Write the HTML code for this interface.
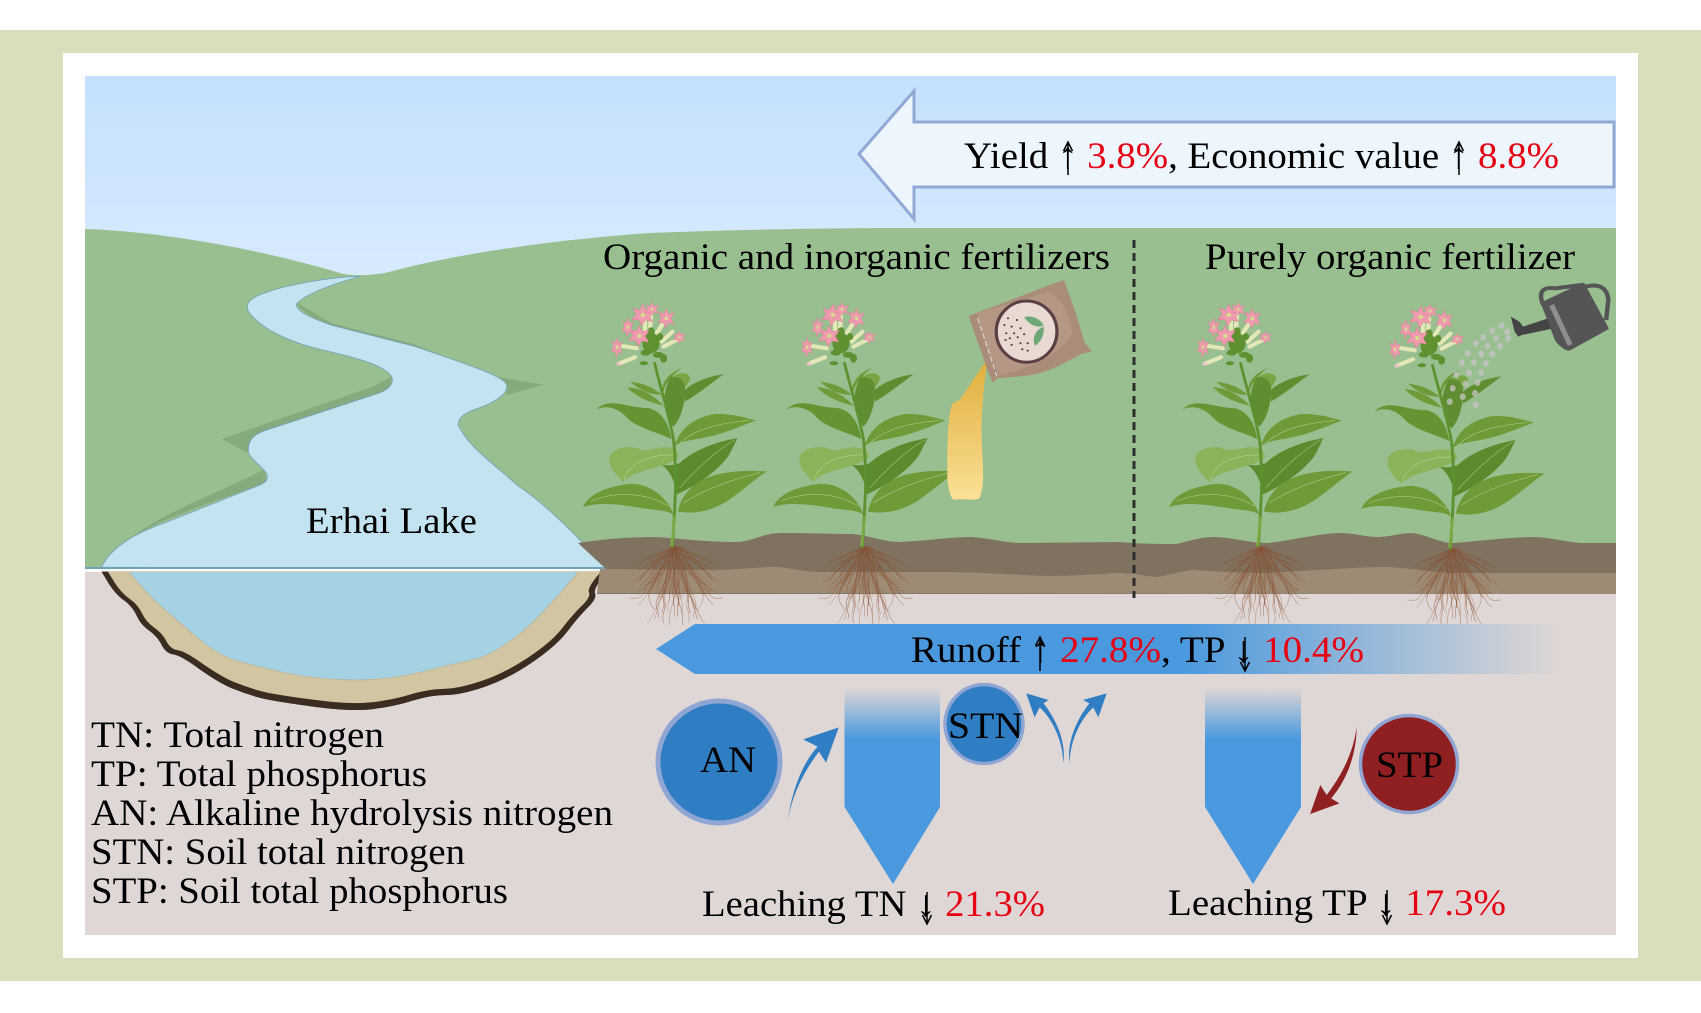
<!DOCTYPE html>
<html><head><meta charset="utf-8"><style>
html,body{margin:0;padding:0;background:#fff}
svg{display:block}
text{font-family:"Liberation Serif",serif;font-size:37px;fill:#000}
.r{fill:#e60012}
</style></head><body>
<svg xmlns="http://www.w3.org/2000/svg" width="1701" height="1013" viewBox="0 0 1701 1013">
<defs>
<linearGradient id="sky" x1="0" y1="0" x2="0" y2="1"><stop offset="0" stop-color="#c4e0fd"/><stop offset="1" stop-color="#d9eafe"/></linearGradient>
<linearGradient id="run" gradientUnits="userSpaceOnUse" x1="656" y1="0" x2="1560" y2="0"><stop offset="0" stop-color="#4a99de"/><stop offset=".58" stop-color="#4a99de"/><stop offset="1" stop-color="#dfd7d5"/></linearGradient>
<linearGradient id="lch" x1="0" y1="0" x2="0" y2="1"><stop offset="0" stop-color="#dfd7d5"/><stop offset=".26" stop-color="#4a99de"/><stop offset="1" stop-color="#4a99de"/></linearGradient>
<linearGradient id="pour" x1="0" y1="0" x2="0" y2="1"><stop offset="0" stop-color="#dfae3a"/><stop offset="1" stop-color="#fbe096"/></linearGradient>
<g id="fl"><path d="M0 -26 L7 -11 L24 -14 L14 0 L22 16 L6 12 L-3 26 L-9 11 L-25 12 L-15 -2 L-22 -16 L-7 -12Z" fill="#ee9bb0" stroke="#d9708e" stroke-width="1"/><circle r="5" fill="#d5dd8a"/></g>
<g id="roots" fill="none" stroke="#8a4b2b" stroke-width="1.4" stroke-linecap="round">
  <path d="M315 800 C290 820 250 825 220 850"/><path d="M315 800 C280 830 250 860 225 900"/>
  <path d="M315 800 C290 850 270 900 250 940 C245 960 255 975 265 990"/><path d="M315 800 C300 860 290 920 295 980 C290 1000 285 1015 290 1030"/>
  <path d="M315 805 C315 870 320 930 340 990 C345 1010 340 1020 345 1035"/><path d="M318 800 C330 870 360 930 380 985 C390 1005 395 1020 405 1030"/>
  <path d="M318 800 C350 850 390 900 420 945 C430 960 440 955 455 955"/><path d="M318 800 C350 820 400 830 440 860"/>
  <path d="M318 800 C360 840 410 870 445 910"/><path d="M315 802 C285 840 240 870 220 905"/>
  <path d="M312 810 C300 850 265 880 235 930"/><path d="M320 810 C335 860 370 880 400 930 C410 950 420 970 430 975"/>
  <path d="M310 815 C300 860 310 900 330 950 C335 970 325 990 330 1010"/><path d="M300 830 C285 880 255 900 250 945"/>
  <path d="M330 830 C345 880 340 920 370 960 C375 985 380 1000 385 1020"/><path d="M305 850 C310 890 280 930 270 965 C265 985 280 1000 275 1015"/>
  <path d="M325 850 C315 890 315 950 320 980"/><path d="M290 830 C265 840 240 855 235 870"/>
  <path d="M350 830 C380 845 410 850 430 875"/><path d="M365 880 C385 900 410 915 430 935"/>
  <path d="M270 870 C250 890 240 910 225 915"/><path d="M355 925 C365 950 355 975 365 1000"/>
</g>
<g id="plant">
 <use href="#roots" opacity=".8"/>
 <use href="#roots" transform="translate(650,0) scale(-1,1)" opacity=".6"/>
 <use href="#roots" transform="translate(322,800) scale(.75,.85) translate(-315,-800)" opacity=".7"/>
 <use href="#roots" transform="translate(322,800) scale(-.55,.7) translate(-315,-800)" opacity=".8"/>
 <!-- leaves -->
 <path d="M350 365 C390 340 430 305 458 283 C410 290 370 310 350 330Z" fill="#5f8d2f"/>
 <path d="M292 378 C260 345 230 325 188 322 C215 355 260 370 292 378Z" fill="#6f9a37"/>
 <path d="M285 345 C260 320 230 310 197 305 C225 335 260 345 285 345Z" fill="#6f9a37"/>
 <path d="M310 295 C330 275 360 275 365 295 C360 310 355 315 350 325Z" fill="#7ba442"/>
 <path d="M285 330 C290 295 315 275 342 264 C315 285 295 310 290 335Z" fill="#6f9a37"/>
 <path d="M312 478 C305 430 285 395 250 385 C190 385 140 350 103 388 C130 375 160 385 180 405 C210 445 270 455 312 478Z" fill="#669433"/>
 <path d="M318 440 C285 400 285 340 310 292 C345 288 352 310 350 350 C345 390 335 420 318 440Z" fill="#5f8d2f"/>
 <path d="M320 500 C330 470 350 420 430 403 C470 400 510 410 548 422 C500 442 450 465 410 472 C370 482 340 482 320 500Z" fill="#6f9a37"/>
 <path d="M325 645 C375 620 420 590 455 550 C475 530 485 500 497 475 C440 485 375 510 335 550 C310 560 300 555 285 555 C310 575 325 610 325 645Z" fill="#5d8a2d"/>
 <path d="M318 705 C300 650 250 612 200 612 C140 618 80 640 65 682 C110 665 170 675 230 685 C270 692 300 690 318 705Z" fill="#6f9a37"/>
 <path d="M330 695 C370 705 430 695 480 655 C520 625 550 595 578 575 C520 570 450 575 410 595 C365 615 340 650 330 695Z" fill="#6f9a37"/>
 <path d="M332 525 C332 505 300 498 270 505 C250 510 230 515 210 503 C175 498 138 510 138 540 C140 572 165 590 178 608 C190 585 230 575 270 562 C300 552 335 542 332 525Z" fill="#8cb35a"/>
 <g fill="none" stroke="#cfe0a8" stroke-width="1.5" opacity=".8">
  <path d="M85 665 C150 635 240 635 305 680"/><path d="M345 670 C400 630 480 600 560 578"/><path d="M335 490 C380 445 450 430 530 422"/><path d="M180 600 C190 560 230 525 320 525"/><path d="M335 625 C380 570 440 510 490 480"/>
 </g>
 <!-- stem -->
 <path d="M315 800 C320 700 330 600 318 480 C305 400 280 320 265 250" fill="none" stroke="#5f9130" stroke-width="8" stroke-linecap="round"/>
 <path d="M312 798 L322 710" stroke="#7cab45" stroke-width="7"/>
 <!-- flower tubes -->
 <g stroke="#e3e8b6" stroke-width="12" stroke-linecap="round" fill="none">
  <path d="M215 205 L172 198"/><path d="M210 232 L168 250"/><path d="M272 158 L290 128"/><path d="M285 185 L315 155"/><path d="M290 200 L332 177"/><path d="M252 150 L255 105"/><path d="M238 150 L238 125"/>
 </g>
 <!-- buds -->
 <g fill="#5f9130">
  <ellipse cx="255" cy="190" rx="24" ry="30"/><ellipse cx="240" cy="218" rx="14" ry="9"/><ellipse cx="275" cy="225" rx="15" ry="9"/><ellipse cx="290" cy="235" rx="10" ry="13"/><ellipse cx="235" cy="250" rx="12" ry="6"/><ellipse cx="255" cy="155" rx="10" ry="13"/><ellipse cx="280" cy="170" rx="9" ry="11"/>
 </g>
 <use href="#fl" transform="translate(232,105) scale(1.25)"/><use href="#fl" transform="translate(222,168) scale(1.2)"/><use href="#fl" transform="translate(190,142) scale(.65,1.15)"/><use href="#fl" transform="translate(298,115) scale(.95,1.15)"/><use href="#fl" transform="translate(160,202) scale(.65,1.15)"/>
 <use href="#fl" transform="translate(335,172) scale(.7)"/><use href="#fl" transform="translate(258,88) scale(.8)"/>
 <ellipse cx="165" cy="252" rx="7" ry="5" fill="#f0c2cc"/>
</g>
</defs>

<rect width="1701" height="1013" fill="#fff"/>
<rect x="0" y="30" width="1701" height="951" fill="#d9dfbd"/>
<rect x="63" y="53" width="1575" height="905" fill="#fff"/>
<rect x="85" y="76" width="1531" height="204" fill="url(#sky)"/>
<rect x="85" y="572" width="1531" height="363" fill="#dfd7d5"/>

<!-- hills -->
<path d="M85 229 C150 231 250 246 340 273 C350 276 365 276 385 273 C450 255 550 240 650 233 C750 229 850 228 912 228 L1616 228 L1616 568 L85 568Z" fill="#99bf90"/>

<!-- river -->
<g transform="scale(.4146,.3827)">
 <path d="M535 1147 L620 1115 L900 1010 L945 985 L940 1020 L640 1130 L600 1185Z" fill="#87a97e"/>
 <path d="M715 790 C735 835 850 875 1000 925 C1100 960 1180 985 1312 1005 L1222 1032 L1222 1000 L1000 900 L800 845Z" fill="#87a97e"/>
 <path d="M245 1480 C300 1390 400 1355 640 1262 L640 1225 C500 1305 340 1350 245 1480Z" fill="#87a97e"/>
 <path d="M870 722 C820 722 700 740 640 765 C600 780 590 795 600 815 C630 860 700 895 780 915 C860 935 930 955 945 985 C950 1000 940 1015 920 1025 L640 1125 C610 1135 595 1155 600 1185 C610 1205 645 1230 645 1245 C645 1255 640 1262 625 1268 L400 1365 C320 1395 265 1435 245 1482 L1465 1487 C1400 1410 1320 1320 1250 1270 C1200 1220 1130 1170 1105 1110 C1105 1085 1130 1075 1170 1060 C1200 1045 1225 1030 1222 1005 C1215 985 1150 960 1000 905 L800 850 C750 830 715 815 715 795 C730 770 820 735 870 722Z" fill="#c3e3f0" stroke="#6fa3b8" stroke-width="2"/>
</g>
<rect x="85" y="567" width="520" height="2" fill="#6fa3b8"/>
<rect x="85" y="569" width="521" height="3" fill="#fff"/>

<!-- lake basin -->
<g transform="translate(0,540) scale(.4146,.3333)">
 <path id="basin" d="M245 95 L262 130 Q280 165 300 182 Q320 200 330 228 Q340 255 360 272 Q380 290 390 315 Q400 340 418 343 Q435 345 482 388 Q530 430 560 445 Q590 460 620 471 Q650 482 745 498 Q840 515 895 508 Q950 500 995 482 Q1040 465 1075 465 Q1110 465 1165 442 Q1220 420 1280 370 Q1340 320 1368 275 Q1395 230 1418 202 Q1440 175 1435 160 Q1430 145 1465 95Z" fill="#3a2c20"/>
 <use href="#basin" style="fill:#d2c5a1"/>
 <path transform="translate(855,95) scale(.975,.95) translate(-855,-95)" d="M245 95 L262 130 Q280 165 300 182 Q320 200 330 228 Q340 255 360 272 Q380 290 390 315 Q400 340 418 343 Q435 345 482 388 Q530 430 560 445 Q590 460 620 471 Q650 482 745 498 Q840 515 895 508 Q950 500 995 482 Q1040 465 1075 465 Q1110 465 1165 442 Q1220 420 1280 370 Q1340 320 1368 275 Q1395 230 1418 202 Q1440 175 1435 160 Q1430 145 1465 95Z" fill="#d2c5a1"/>
 <path d="M310 95 L340 138 Q370 180 400 212 Q430 245 475 292 Q520 340 560 358 Q600 375 685 398 Q770 420 855 420 Q940 420 1020 395 Q1100 370 1140 360 Q1180 350 1240 295 Q1300 240 1395 95Z" fill="#a5d2e3" stroke="#bfb190" stroke-width="2"/>
</g>

<!-- soil -->
<path d="M578 543 C590 541 620 537 653 537 C680 538 700 542 739 542 C755 540 765 533 781 533 C810 533 835 534 853 534 C875 537 885 542 899 542 C925 541 950 537 971 537 C990 538 1005 543 1021 543 L1120 542 C1140 544 1160 544 1176 544 C1190 541 1200 537 1216 537 C1235 538 1250 543 1268 543 C1295 540 1320 533 1342 533 C1360 534 1365 537 1379 537 C1395 536 1400 533 1413 533 C1430 536 1440 543 1453 543 C1480 541 1510 537 1535 537 C1555 538 1570 543 1583 543 L1616 543 L1616 594 L597 594 L606 569Z" fill="#7f7260"/>
<path d="M600 569 L703 570 C740 570 760 567 774 567 C790 567 800 572 820 572 L950 572 C1000 573 1030 576 1050 576 C1080 576 1110 573 1120 573 C1140 574 1150 577 1157 577 C1175 574 1185 570 1194 570 C1220 572 1250 573 1268 573 C1300 571 1360 567 1387 567 C1410 568 1440 573 1453 573 L1616 573 L1616 594 L597 593Z" fill="#9d8b76"/>

<!-- plants -->
<use href="#plant" transform="translate(560,280) scale(.357,.333)"/>
<use href="#plant" transform="translate(750,280) scale(.357,.333)"/>
<use href="#plant" transform="translate(1146,280) scale(.357,.333)"/>
<use href="#plant" transform="translate(1338,282) scale(.357,.333)"/>

<!-- fertilizer bag -->
<g transform="translate(560,280) scale(.357,.333)">
 <path d="M1198 235 L1120 360 L1100 370 C1085 400 1085 500 1085 590 C1085 620 1095 660 1105 660 C1130 655 1160 665 1175 655 C1190 620 1185 560 1182 500 C1178 420 1185 330 1198 235Z" fill="url(#pour)"/>
 <path d="M1145 108 L1390 8 L1412 0 L1425 40 L1445 100 L1470 190 L1490 215 L1465 220 C1420 245 1380 270 1340 280 C1300 292 1260 290 1225 295 L1212 307 L1195 265 C1180 210 1160 160 1145 108Z" fill="#a98c7a"/>
 <path d="M1170 100 L1370 35 C1410 60 1430 110 1435 160 C1400 220 1340 260 1230 285 C1200 220 1180 160 1170 100Z" fill="#b49885"/>
 <path d="M1170 115 L1224 290" stroke="#e8dad2" stroke-width="3" stroke-dasharray="16 8"/>
 <ellipse cx="1307" cy="155" rx="85" ry="92" fill="#e8dad2" stroke="#5a4044" stroke-width="9"/>
 <path d="M1300 112 C1320 105 1345 115 1355 137 C1335 145 1315 135 1300 112Z" fill="#6fa878"/>
 <path d="M1355 140 C1358 165 1345 190 1330 197 C1322 175 1330 150 1355 140Z" fill="#6fa878"/>
 <g fill="#4a3238">
  <circle cx="1255" cy="115" r="3"/><circle cx="1280" cy="120" r="3"/><circle cx="1245" cy="135" r="3"/><circle cx="1265" cy="140" r="3"/><circle cx="1290" cy="145" r="3"/><circle cx="1250" cy="160" r="3"/><circle cx="1272" cy="160" r="3"/><circle cx="1300" cy="163" r="3"/><circle cx="1260" cy="175" r="3"/><circle cx="1282" cy="172" r="3"/><circle cx="1265" cy="195" r="3"/><circle cx="1290" cy="190" r="3"/><circle cx="1310" cy="190" r="3"/><circle cx="1295" cy="208" r="3"/><circle cx="1310" cy="212" r="3"/><circle cx="1248" cy="180" r="3"/>
 </g>
</g>

<!-- watering can + drops -->
<g transform="translate(1120,260) scale(.3705,.3333)">
 <g fill="#c8c4c8" opacity=".75">
  <ellipse cx="1030" cy="197" rx="8" ry="10"/><ellipse cx="1005" cy="212" rx="8" ry="10"/><ellipse cx="980" cy="232" rx="8" ry="10"/><ellipse cx="960" cy="250" rx="8" ry="10"/><ellipse cx="938" cy="280" rx="8" ry="10"/><ellipse cx="922" cy="308" rx="8" ry="10"/><ellipse cx="908" cy="345" rx="8" ry="10"/><ellipse cx="898" cy="385" rx="8" ry="10"/><ellipse cx="890" cy="425" rx="8" ry="10"/>
  <ellipse cx="1045" cy="215" rx="8" ry="10"/><ellipse cx="1015" cy="235" rx="8" ry="10"/><ellipse cx="992" cy="258" rx="8" ry="10"/><ellipse cx="975" cy="282" rx="8" ry="10"/><ellipse cx="955" cy="308" rx="8" ry="10"/><ellipse cx="942" cy="338" rx="8" ry="10"/><ellipse cx="932" cy="372" rx="8" ry="10"/><ellipse cx="925" cy="410" rx="8" ry="10"/>
  <ellipse cx="1048" cy="235" rx="8" ry="10"/><ellipse cx="1025" cy="258" rx="8" ry="10"/><ellipse cx="1005" cy="282" rx="8" ry="10"/><ellipse cx="988" cy="310" rx="8" ry="10"/><ellipse cx="975" cy="338" rx="8" ry="10"/><ellipse cx="965" cy="368" rx="8" ry="10"/><ellipse cx="958" cy="400" rx="8" ry="10"/><ellipse cx="960" cy="435" rx="8" ry="10"/>
 </g>
 <path d="M1170 205 L1085 225 L1075 230 L1065 215 L1055 170 L1078 185 L1088 200 L1155 175Z" fill="#444"/>
 <path d="M1142 135 C1128 95 1140 80 1175 85 L1245 75" fill="none" stroke="#555" stroke-width="12"/>
 <path d="M1255 80 C1290 70 1315 80 1318 120 L1312 180" fill="none" stroke="#555" stroke-width="12"/>
 <path d="M1140 130 L1250 72 L1315 205 L1212 268 C1205 268 1190 258 1178 240Z" fill="#555" stroke="#555" stroke-width="8" stroke-linejoin="round"/>
 <path d="M1165 135 L1215 255" stroke="#8f8f8f" stroke-width="14"/>
</g>

<!-- dashed divider -->
<line x1="1134" y1="240" x2="1134" y2="598" stroke="#2d2d2d" stroke-width="3" stroke-dasharray="8 5"/>

<!-- yield arrow -->
<path d="M859 154 L914 91 L914 122 L1614 122 L1614 187 L914 187 L914 219Z" fill="#edf5fd" stroke="#91a8d5" stroke-width="3"/>

<!-- runoff arrow -->
<path d="M656 649 L695 624 L1560 624 L1560 674 L695 674Z" fill="url(#run)"/>
<!-- leaching arrows -->
<path d="M844.5 688 L940 688 L940 807 L893 884 L844.5 807Z" fill="url(#lch)"/>
<path d="M1205 688 L1301 688 L1301 807 L1253 884 L1205 807Z" fill="url(#lch)"/>

<!-- circles -->
<ellipse cx="719" cy="762" rx="61" ry="61" fill="#2f7dc2" stroke="#8fa5d4" stroke-width="5"/>
<ellipse cx="984" cy="724" rx="39" ry="39.5" fill="#2f7dc2" stroke="#8fa5d4" stroke-width="3.5"/>
<ellipse cx="1409" cy="764" rx="48.5" ry="48.5" fill="#8f1f20" stroke="#8fa5d4" stroke-width="3.5"/>

<!-- curved arrows -->
<g transform="translate(620,620) scale(.6378,.3333)">
 <path d="M263 605 C270 500 290 420 310 380 L287 358 L343 322 L323 428 L312 395 C290 450 270 520 263 605Z" fill="#2f7dc2"/>
 <path d="M695 430 C695 370 680 300 658 262 L650 292 L637 220 L672 240 L664 250 C685 300 700 370 695 430Z" fill="#2f7dc2"/>
 <path d="M705 430 C705 370 720 300 742 262 L750 292 L763 220 L726 240 L736 250 C715 300 700 370 705 430Z" fill="#2f7dc2"/>
 <path d="M1155 320 C1150 400 1130 470 1108 525 L1098 495 L1082 582 L1128 550 L1115 535 C1140 480 1155 400 1155 320Z" fill="#8f1f20"/>
</g>

<!-- text -->
<text x="964" y="168" textLength="595" lengthAdjust="spacingAndGlyphs">Yield ↑ <tspan class="r">3.8%</tspan>, Economic value ↑ <tspan class="r">8.8%</tspan></text>
<text x="603" y="269" textLength="507" lengthAdjust="spacingAndGlyphs">Organic and inorganic fertilizers</text>
<text x="1205" y="269" textLength="370" lengthAdjust="spacingAndGlyphs">Purely organic fertilizer</text>
<text x="306" y="533" textLength="171" lengthAdjust="spacingAndGlyphs">Erhai Lake</text>
<text x="911" y="662" textLength="453" lengthAdjust="spacingAndGlyphs">Runoff ↑ <tspan class="r">27.8%</tspan>, TP ↓ <tspan class="r">10.4%</tspan></text>
<text x="700" y="772" textLength="56" lengthAdjust="spacingAndGlyphs">AN</text>
<text x="948" y="738" textLength="75" lengthAdjust="spacingAndGlyphs">STN</text>
<text x="1376" y="777" textLength="67" lengthAdjust="spacingAndGlyphs">STP</text>
<text x="702" y="916" textLength="343" lengthAdjust="spacingAndGlyphs">Leaching TN ↓ <tspan class="r">21.3%</tspan></text>
<text x="1168" y="915" textLength="338" lengthAdjust="spacingAndGlyphs">Leaching TP ↓ <tspan class="r">17.3%</tspan></text>
<text x="91" y="747" textLength="293" lengthAdjust="spacingAndGlyphs">TN: Total nitrogen</text>
<text x="91" y="786" textLength="336" lengthAdjust="spacingAndGlyphs">TP: Total phosphorus</text>
<text x="91" y="825" textLength="522" lengthAdjust="spacingAndGlyphs">AN: Alkaline hydrolysis nitrogen</text>
<text x="91" y="864" textLength="374" lengthAdjust="spacingAndGlyphs">STN: Soil total nitrogen</text>
<text x="91" y="903" textLength="417" lengthAdjust="spacingAndGlyphs">STP: Soil total phosphorus</text>

<!-- long arrow strokes matching the reference's taller arrows -->
<g fill="none" stroke="#000" stroke-width="1.5">
 <path d="M1068 175 V143 M1063.5 151 L1068 142 L1072.5 151"/>
 <path d="M1459 175 V143 M1454.5 151 L1459 142 L1463.5 151"/>
 <path d="M1040 671 V638 M1035.5 646 L1040 637 L1044.5 646"/>
 <path d="M1245 637 V670 M1240.5 662 L1245 671 L1249.5 662"/>
 <path d="M927 892 V923 M922.5 915 L927 924 L931.5 915"/>
 <path d="M1387 890 V923 M1382.5 915 L1387 924 L1391.5 915"/>
</g>
</svg>
</body></html>
